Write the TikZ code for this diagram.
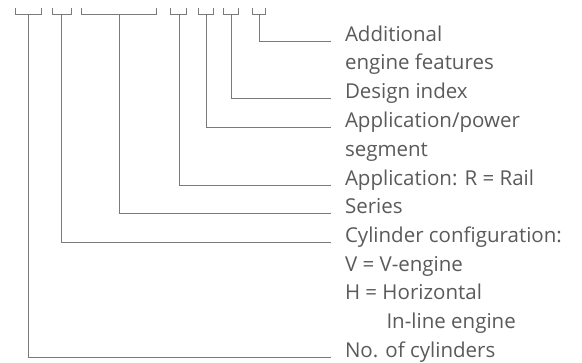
\documentclass[tikz,border=0pt]{standalone}
\usepackage{fontspec}
\setmainfont{Open Sans}
\definecolor{linegray}{HTML}{7A7A7A}
\definecolor{textgray}{HTML}{5A5A5A}
\tikzset{lbl/.style={anchor=base west,inner xsep=13.5pt,inner ysep=0pt,text=textgray,font=\fontsize{20.5}{24}\selectfont}}
\begin{document}
\begin{tikzpicture}[x=1pt,y=-1pt,line width=1pt,draw=linegray]
\useasboundingbox (0,0) rectangle (582,363);
\draw (15.7,8) |- (41.3,15) -- (41.3,8);
\draw (52.3,8) |- (71.3,15) -- (71.3,8);
\draw (81.3,8) |- (156.7,15) -- (156.7,8);
\draw (170.7,8) |- (186.7,15) -- (186.7,8);
\draw (198,8) |- (213.3,15) -- (213.3,8);
\draw (223.3,8) |- (238.7,15) -- (238.7,8);
\draw (252.3,8) |- (265,15) -- (265,8);
\coordinate (cyl) at (28.7,15);
\coordinate (conf) at (61.7,15);
\coordinate (ser) at (119.7,15);
\coordinate (app) at (179,15);
\coordinate (pow) at (206.3,15);
\coordinate (des) at (231.3,15);
\coordinate (add) at (259,15);
\node[lbl] (add1) at (331,41.5) {Additional};
\node[lbl] (add2) at (331,70) {engine features};
\node[lbl] (des1) at (331,99) {Design index};
\node[lbl] (pow1) at (331,128) {Application/power};
\node[lbl] (pow2) at (331,156.5) {segment};
\node[lbl] (app1) at (331,185.5) {Application: R = Rail};
\node[lbl] (ser1) at (331,214) {Series};
\node[lbl] (conf1) at (331,243) {Cylinder configuration:};
\node[lbl] (conf2) at (331,271.5) {V = V-engine};
\node[lbl] (conf3) at (331,300) {H = Horizontal};
\node[lbl] (conf4) at (372.5,329) {In-line engine};
\node[lbl] (cyl1) at (331,357.5) {No. of cylinders};
\draw (add) |- (add1.base west);
\draw (des) |- (des1.base west);
\draw (pow) |- (pow1.base west);
\draw (app) |- (app1.base west);
\draw (ser) |- (ser1.base west);
\draw (conf) |- (conf1.base west);
\draw (cyl) |- (cyl1.base west);
\end{tikzpicture}
\end{document}
